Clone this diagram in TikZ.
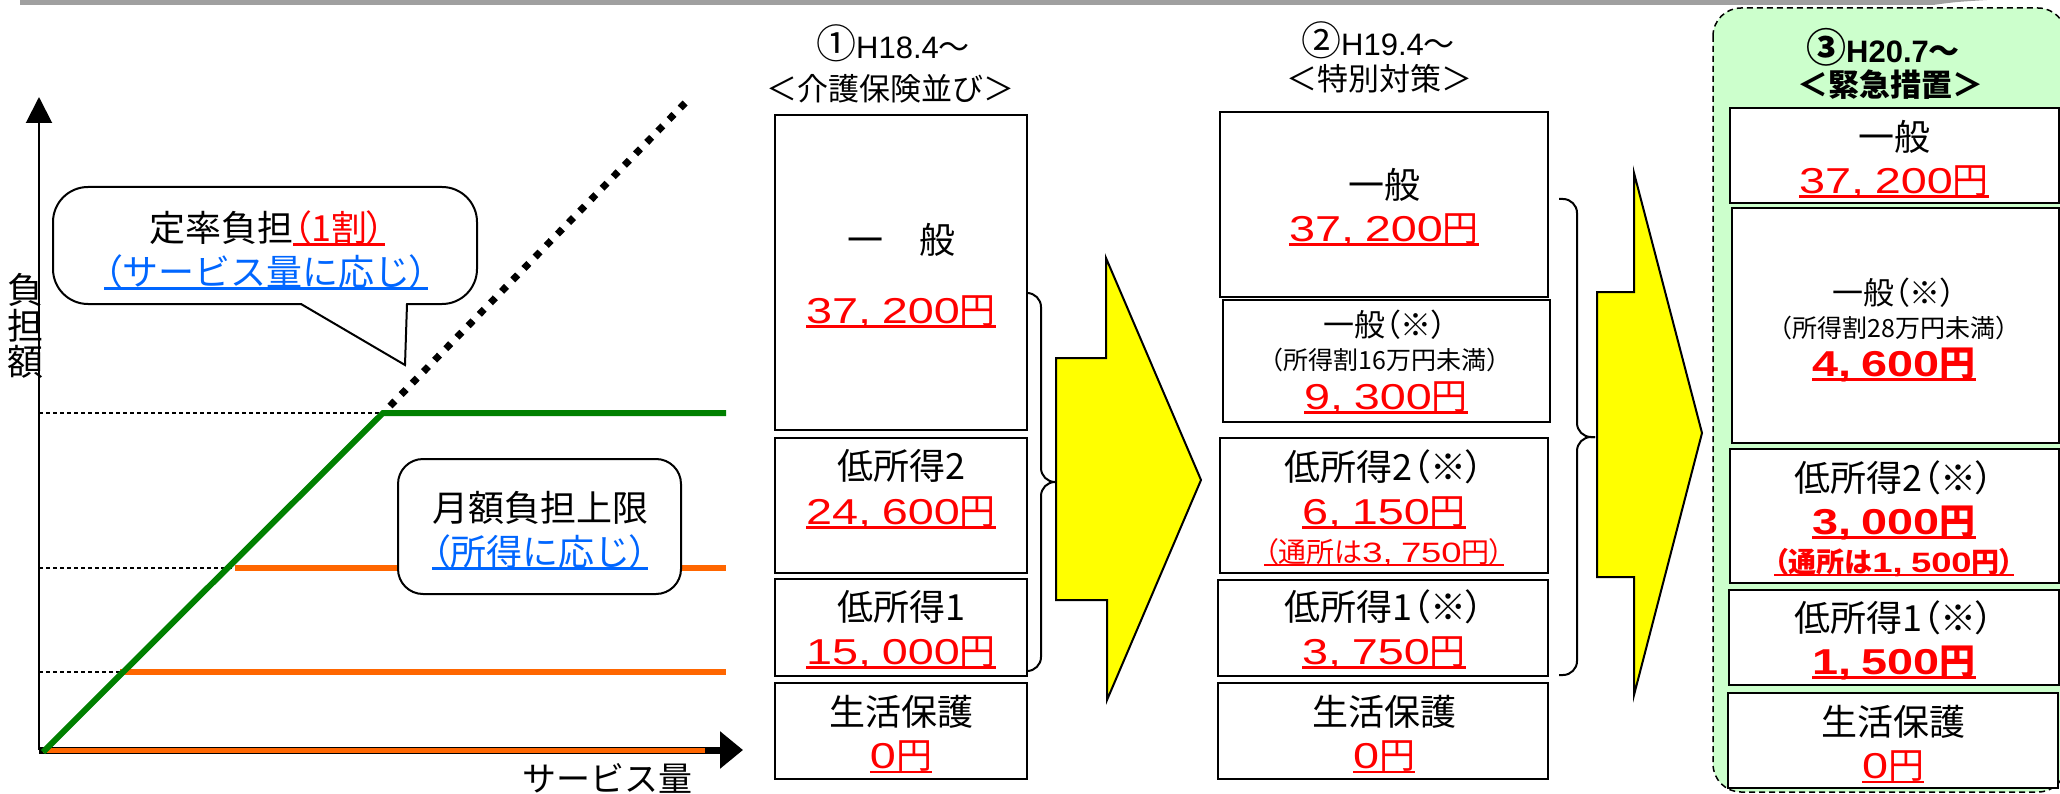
\documentclass[tikz,border=0pt]{standalone}
\usepackage{fontspec}
\setmainfont{Noto Sans CJK JP}
\newfontfamily\jpp{Noto Sans CJK JP}[RawFeature=+palt]
\newfontfamily\ar{Liberation Sans}
\newfontfamily\dig{Liberation Sans}[FakeStretch=1.3]
\usetikzlibrary{arrows.meta}
\definecolor{cred}{RGB}{255,0,0}
\definecolor{cblue}{RGB}{0,102,255}
\definecolor{cgreen}{RGB}{0,128,0}
\definecolor{corange}{RGB}{255,102,0}
\definecolor{cpanel}{RGB}{204,255,204}
\definecolor{cbar}{RGB}{160,160,160}
\definecolor{cyel}{RGB}{255,255,0}
\newcommand\fz[1]{\fontsize{#1pt}{#1pt}\selectfont}
\newcommand\ul[1]{\leavevmode\setbox0=\hbox{#1}\rlap{\rule[-0.12em]{\wd0}{0.07em}}\box0}
\newcommand\cma{,\kern0.3em}
\newcommand\yen[1]{\ul{{\dig #1}円}}
\newcommand\lp{{\jpp （}}
\newcommand\rp{{\jpp ）}}
\begin{document}
\begin{tikzpicture}[x=1pt,y=-1pt,
  every node/.style={inner sep=0pt, outer sep=0pt},
  box/.style={draw=black, line width=2pt, fill=white},
  lab/.style={font=\fz{36}},
  hdr/.style={font=\fz{31}},
  small/.style={font=\fz{25}},
  money/.style={font=\fz{36}, text=cred},
  note/.style={font=\fz{28}, text=cred},
  yarrow/.style={draw=black, line width=2pt, fill=cyel, line join=miter},
  bracel/.style={draw=black, line width=2pt, rounded corners=14pt},
  guide/.style={draw=black, line width=1.5pt, dash pattern=on 4pt off 3pt},
  oline/.style={draw=corange, line width=6pt},
  callout/.style={draw=black, line width=2pt, fill=white}
]
\useasboundingbox (0,0) rectangle (2060,794);
% top bar
\fill[cbar] (20,0) -- (1987,0) .. controls (1955,2) .. (1933,5) -- (20,5) -- cycle;

% ---------------- left chart ----------------
\draw[guide] (39,413) -- (383,413);
\draw[guide] (39,568) -- (235,568);
\draw[guide] (39,672) -- (120,672);
\draw[line width=2pt, -{Triangle[length=26pt,width=26pt]}] (39,750) -- (39,97);
\draw[line width=7pt, -{Triangle[length=23pt,width=36pt]}] (39,750) -- (743,750);
\draw[draw=corange, line width=5pt] (43,750) -- (705,750);
\draw[oline] (120,672) -- (726,672);
\draw[oline] (235,568) -- (726,568);
\draw[cgreen, line width=6pt, line join=miter] (43,752) -- (383,413) -- (726,413);
\draw[line width=7pt, dash pattern=on 7pt off 9pt] (390,406) -- (688,100);

\draw[callout, rounded corners=35pt] (53,187) rectangle (477,304);
\fill[white] (302,300) -- (302,305) -- (405,365) -- (406,305) -- (406,300) -- cycle;
\draw[line width=2pt, line join=miter] (301,304) -- (405,365) -- (407,304);
\node[font=\fz{36}] (c1a) at (267,228) {定率負担\textcolor{cred}{\ul{\lp 1割\rp}}};
\node[font=\fz{36}, text=cblue] (c1b) at (266,272) {\ul{\lp サービス量に応じ\rp}};

\draw[callout, rounded corners=25pt] (398,459) rectangle (681,594);
\node[font=\fz{36}] (c2a) at (540,508) {月額負担上限};
\node[font=\fz{36}, text=cblue] (c2b) at (540,552) {\ul{\lp 所得に応じ\rp}};

\node[font=\fz{36}, align=center] (ylab) at (26,326) {負\\担\\額};
\node[font=\fz{34}] (xlab) at (607,778) {サービス量};

% ---------------- column 1 ----------------
\node[hdr] (h1a) at (893,43) {{\fz{40}①}{\ar H18.4}～};
\node[hdr] (h1b) at (890,89) {＜介護保険並び＞};
\draw[box] (775,115) rectangle (1027,430);
\draw[box] (775,438) rectangle (1027,573);
\draw[box] (775,579) rectangle (1027,676);
\draw[box] (775,683) rectangle (1027,779);
\node[lab] (a1) at (901,240) {一　般};
\node[money] (a1m) at (901,312) {\yen{37\cma 200}};
\node[lab] (a2) at (901,466) {低所得2};
\node[money] (a2m) at (901,513) {\yen{24\cma 600}};
\node[lab] (a3) at (901,607) {低所得1};
\node[money] (a3m) at (901,653) {\yen{15\cma 000}};
\node[lab] (a4) at (901,712) {生活保護};
\node[money] (a4m) at (901,757) {\yen{0}};

\draw[bracel] (1027,293) -- (1041,293) -- (1041,482) -- (1056,482);
\draw[bracel] (1027,671) -- (1041,671) -- (1041,482) -- (1056,482);
\draw[yarrow] (1056,358) -- (1106,358) -- (1106,258) -- (1201,480) -- (1107,700) -- (1107,600) -- (1056,600) -- cycle;

% ---------------- column 2 ----------------
\node[hdr] (h2a) at (1378,40) {{\fz{40}②}{\ar H19.4}～};
\node[hdr] (h2b) at (1379,79) {＜特別対策＞};
\draw[box] (1220,112) rectangle (1548,297);
\draw[box] (1223,300) rectangle (1550,422);
\draw[box] (1220,438) rectangle (1548,573);
\draw[box] (1218,580) rectangle (1548,676);
\draw[box] (1218,683) rectangle (1548,779);
\node[lab] (b1) at (1384,185) {一般};
\node[money] (b1m) at (1384,230) {\yen{37\cma 200}};
\node[font=\fz{31}] (b2) at (1385,325) {一般\lp ※\rp};
\node[small] (b2s) at (1385,360) {（所得割16万円未満）};
\node[money] (b2m) at (1386,398) {\yen{9\cma 300}};
\node[lab] (b3) at (1384,467) {低所得2\lp ※\rp};
\node[money] (b3m) at (1384,513) {\yen{6\cma 150}};
\node[note] (b3n) at (1384,552) {\ul{\lp 通所は{\dig 3\cma 750}円\rp}};
\node[lab] (b4) at (1384,607) {低所得1\lp ※\rp};
\node[money] (b4m) at (1384,653) {\yen{3\cma 750}};
\node[lab] (b5) at (1384,712) {生活保護};
\node[money] (b5m) at (1384,757) {\yen{0}};

\draw[bracel] (1559,199) -- (1577,199) -- (1577,437) -- (1595,437);
\draw[bracel] (1559,675) -- (1577,675) -- (1577,437) -- (1595,437);
\draw[yarrow] (1597,292) -- (1634,292) -- (1634,173) -- (1702,433) -- (1634,695) -- (1634,577) -- (1597,577) -- cycle;

% ---------------- column 3 ----------------
\draw[fill=cpanel, draw=black, line width=1.5pt, dash pattern=on 6pt off 4pt, rounded corners=28pt] (1713,8) rectangle (2066,792);
\node[hdr, font=\fz{31}\bfseries] (h3a) at (1883,47) {{\fz{40}③}{\ar H20.7}～};
\node[hdr, font=\fz{31}\bfseries] (h3b) at (1890,85) {＜緊急措置＞};
\draw[box] (1730,108) rectangle (2059,203);
\draw[box] (1732,208) rectangle (2059,443);
\draw[box] (1730,449) rectangle (2059,583);
\draw[box] (1729,590) rectangle (2059,685);
\draw[box] (1728,693) rectangle (2058,788);
\node[lab] (d1) at (1894,137) {一般};
\node[money] (d1m) at (1894,182) {\yen{37\cma 200}};
\node[font=\fz{31}] (d2) at (1894,293) {一般\lp ※\rp};
\node[small] (d2s) at (1894,328) {（所得割28万円未満）};
\node[money, font=\fz{36}\bfseries] (d2m) at (1894,365) {\yen{4\cma 600}};
\node[lab] (d3) at (1894,478) {低所得2\lp ※\rp};
\node[money, font=\fz{36}\bfseries] (d3m) at (1894,523) {\yen{3\cma 000}};
\node[note, font=\fz{28}\bfseries] (d3n) at (1894,563) {\ul{\lp 通所は{\dig 1\cma 500}円\rp}};
\node[lab] (d4) at (1894,618) {低所得1\lp ※\rp};
\node[money, font=\fz{36}\bfseries] (d4m) at (1894,663) {\yen{1\cma 500}};
\node[lab] (d5) at (1893,722) {生活保護};
\node[money] (d5m) at (1893,767) {\yen{0}};
\end{tikzpicture}
\end{document}
